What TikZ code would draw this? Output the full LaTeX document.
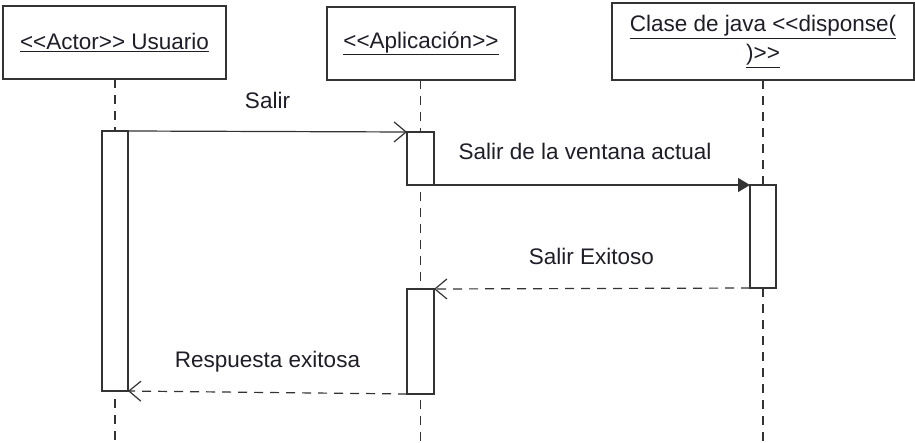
\documentclass[tikz,border=0pt]{standalone}
\usepackage{fontspec}
\setmainfont{Liberation Sans}[Ligatures=TeXOff]
\usetikzlibrary{arrows.meta}
\definecolor{ln}{HTML}{333333}
\definecolor{txt}{HTML}{1E1E28}
\newcommand{\lt}{\textless\kern0pt}
\newcommand{\gt}{\textgreater\kern0pt}
\tikzset{
  objbox/.style={draw=ln, line width=1.3pt, fill=white, inner sep=0pt, outer sep=0pt, align=center, text=txt},
  actbox/.style={draw=ln, line width=1.2pt, fill=white, inner sep=0pt, outer sep=0pt, minimum width=26pt},
  lifeline/.style={draw=ln, line width=1.2pt, dash pattern=on 9pt off 7pt},
  msg/.style={draw=ln, line width=1.2pt},
  reply/.style={draw=ln, line width=1.2pt, dash pattern=on 9pt off 7pt},
  openhead/.style={-{Straight Barb[length=12pt,width=20pt,line width=1.2pt]}},
  fullhead/.style={-{Triangle[length=12pt,width=14pt]}},
  lbl/.style={anchor=base, text=txt, inner sep=0pt}
}
\begin{document}
\begin{tikzpicture}[x=1pt,y=-1pt,font=\fontsize{22.5}{29}\selectfont]
\useasboundingbox[fill=white] (0,0) rectangle (915,443);
% lifeline ends
\coordinate (e1) at (115,443);
\coordinate (e2) at (420.5,443);
\coordinate (e3) at (763,443);
% object boxes
\node[objbox, minimum width=223pt, minimum height=73pt] (b1) at (114.5,42.5) {\underline{\lt\lt Actor\gt\gt{} Usuario}};
\node[objbox, minimum width=188pt, minimum height=73pt] (b2) at (421,43.5) {\underline{\lt\lt Aplicación\gt\gt}};
\node[objbox, minimum width=302pt, minimum height=77pt] (b3) at (763,41.5) {\underline{Clase de java \lt\lt disponse(}\\\underline{)\gt\gt}};
% lifelines
\draw[lifeline] (b1.south -| e1) -- (e1);
\draw[lifeline] (b2.south -| e2) -- (e2);
\draw[lifeline] (b3.south -| e3) -- (e3);
% activations
\node[actbox, minimum height=260pt] (a1) at (115,261) {};
\node[actbox, minimum width=27pt, minimum height=53pt] (a2) at (420.5,158.5) {};
\node[actbox, minimum height=103pt] (a3) at (763,236.5) {};
\node[actbox, minimum width=27pt, minimum height=105pt] (a4) at (420.5,341.5) {};
% messages
\draw[msg, openhead] (a1.north east) -- node[lbl, pos=0.5, yshift=23pt] {Salir} (a2.north west);
\draw[msg, fullhead] (a2.south east) -- node[lbl, pos=0.478, yshift=25pt] {Salir de la ventana actual} (a3.north west);
\draw[reply, openhead] (a3.south west) -- node[lbl, pos=0.502, yshift=24pt] {Salir Exitoso} (a4.north east);
\draw[reply, openhead] (a4.south west) -- node[lbl, pos=0.5, yshift=25pt] {Respuesta exitosa} (a1.south east);
\end{tikzpicture}
\end{document}
